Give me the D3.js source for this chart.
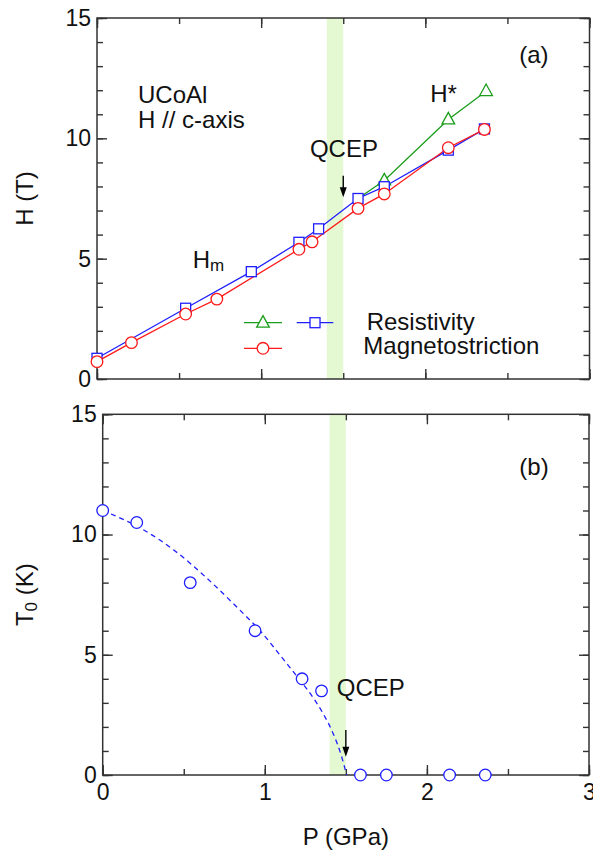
<!DOCTYPE html>
<html>
<head>
<meta charset="utf-8">
<script src="https://cdn.jsdelivr.net/npm/d3@7"></script>
<style>
  html, body { margin: 0; padding: 0; background: #fff; }
  svg { display: block; }
</style>
</head>
<body>
<script>
// ---- Panel (a): metamagnetic fields vs pressure ----
// Resistivity, H_m (blue squares)
const pRes  = [0.00, 0.54, 0.94, 1.23, 1.35, 1.59, 1.75, 2.14, 2.36];
const hmRes = [0.86, 2.94, 4.46, 5.68, 6.24, 7.50, 7.99, 9.51, 10.39];
// Magnetostriction, H_m (red circles)
const pMag  = [0.00, 0.21, 0.54, 0.73, 1.23, 1.31, 1.59, 1.75, 2.14, 2.36];
const hmMag = [0.72, 1.51, 2.70, 3.32, 5.39, 5.70, 7.09, 7.69, 9.61, 10.37];
// Resistivity, H* (green triangles); branches off H_m at pRes[starBranch]
const pStar = [1.75, 2.14, 2.37];
const hStar = [8.25, 10.78, 11.96];
const starBranch = 5;

// ---- Panel (b): T0 vs pressure ----
const pT0 = [0.00, 0.21, 0.54, 0.94, 1.23, 1.35, 1.59, 1.75, 2.14, 2.36];
const t0  = [11.0, 10.5, 8.0, 6.0, 4.0, 3.5, 0, 0, 0, 0];
// dashed guide line for T0(P)
const guideP = [0.00, 0.25, 0.44, 0.64, 0.81, 0.99, 1.11, 1.21, 1.30, 1.36, 1.42, 1.47, 1.505];
const guideT = [11.0, 10.2, 9.35, 8.2, 7.1, 5.85, 4.85, 4.0, 3.2, 2.55, 1.75, 0.85, 0.0];

// QCEP band and marker
const bandP = [1.4, 1.5];
const qcepP = 1.5;

// Axis ticks
const xMajor = [0, 1, 2, 3];
const xMinor = [0, 0.5, 1, 1.5, 2, 2.5, 3];
const yMajor = [0, 5, 10, 15];
const yMinor = d3.range(0, 16, 1);

const FONT = "'Liberation Sans', Arial, Helvetica, sans-serif";
const AXIS = "#333";
const BLUE = "#1f1fff", RED = "#ff1a1a", GREEN = "#1a9e1a", BAND = "#e4f9d1";
const TICK_FS = 23, TEXT_FS = 24;

const svg = d3.select("body").append("svg")
  .attr("width", 593).attr("height", 852)
  .style("font-family", FONT);

// scales for each panel
const xa = d3.scaleLinear().domain([0, 3]).range([97, 589.5]);
const ya = d3.scaleLinear().domain([0, 15]).range([379, 18]);
const xb = d3.scaleLinear().domain([0, 3]).range([102.7, 589]);
const yb = d3.scaleLinear().domain([0, 15]).range([775, 414.3]);

function band(g, x, y) {
  g.append("rect")
    .attr("x", x(bandP[0])).attr("width", x(bandP[1]) - x(bandP[0]))
    .attr("y", y(15)).attr("height", y(0) - y(15))
    .attr("fill", BAND);
}

function axes(g, x, y, xLabels) {
  const [x0, x1] = x.range();
  const [yB, yT] = y.range();
  const add = (tr, axis) => {
    const a = g.append("g").attr("transform", tr).call(axis);
    a.select(".domain").remove();
    a.selectAll(".tick line").attr("stroke", AXIS).attr("stroke-width", 1.4);
    a.selectAll(".tick text").attr("fill", "#111").style("font-size", TICK_FS + "px").style("font-family", FONT);
    return a;
  };
  // bottom
  add(`translate(0,${yB})`, d3.axisBottom(x).tickValues(xMinor).tickSize(-6).tickFormat(""));
  add(`translate(0,${yB})`, d3.axisBottom(x).tickValues(xMajor).tickSize(-10).tickPadding(9)
      .tickFormat(xLabels ? d3.format("d") : ""));
  // top
  add(`translate(0,${yT})`, d3.axisTop(x).tickValues(xMinor).tickSize(-6).tickFormat(""));
  add(`translate(0,${yT})`, d3.axisTop(x).tickValues(xMajor).tickSize(-10).tickFormat(""));
  // left
  add(`translate(${x0},0)`, d3.axisLeft(y).tickValues(yMinor).tickSize(-6).tickFormat(""));
  add(`translate(${x0},0)`, d3.axisLeft(y).tickValues(yMajor).tickSize(-10).tickPadding(6).tickFormat(d3.format("d")));
  // right
  add(`translate(${x1},0)`, d3.axisRight(y).tickValues(yMinor).tickSize(-6).tickFormat(""));
  add(`translate(${x1},0)`, d3.axisRight(y).tickValues(yMajor).tickSize(-10).tickFormat(""));
  // frame
  g.append("rect").attr("x", x0).attr("y", yT).attr("width", x1 - x0).attr("height", yB - yT)
    .attr("fill", "none").attr("stroke", AXIS).attr("stroke-width", 1.5);
}

// marker shapes
const tri = (s) => `M0,${-s * 0.62}L${s * 0.55},${s * 0.38}L${-s * 0.55},${s * 0.38}Z`;
function circles(g, pts, color) {
  g.selectAll(null).data(pts).join("circle")
    .attr("cx", d => d[0]).attr("cy", d => d[1]).attr("r", 5.8)
    .attr("fill", "#fff").attr("stroke", color).attr("stroke-width", 1.3);
}
function squares(g, pts, color) {
  g.selectAll(null).data(pts).join("rect")
    .attr("x", d => d[0] - 5).attr("y", d => d[1] - 5).attr("width", 10).attr("height", 10)
    .attr("fill", "#fff").attr("stroke", color).attr("stroke-width", 1.3);
}
function triangles(g, pts, color) {
  g.selectAll(null).data(pts).join("path")
    .attr("transform", d => `translate(${d[0]},${d[1]})`).attr("d", tri(11.5))
    .attr("fill", "#fff").attr("stroke", color).attr("stroke-width", 1.3);
}
function polyline(g, pts, color) {
  g.append("path").attr("d", d3.line()(pts))
    .attr("fill", "none").attr("stroke", color).attr("stroke-width", 1.3);
}
function arrow(g, x, y, p, from, to) {
  const px = x(p), yt = y(from), yh = y(to);
  g.append("line").attr("x1", px).attr("x2", px).attr("y1", yt).attr("y2", yh - 6)
    .attr("stroke", "#000").attr("stroke-width", 1.4);
  g.append("path").attr("d", `M${px},${yh}L${px - 3.5},${yh - 10}L${px + 3.5},${yh - 10}Z`).attr("fill", "#000");
}
function label(g, tx, ty, text, size, anchor) {
  return g.append("text").attr("x", tx).attr("y", ty)
    .attr("text-anchor", anchor || "start")
    .style("font-size", size + "px").attr("fill", "#111").text(text);
}

// ===== Panel (a) =====
const ga = svg.append("g");
band(ga, xa, ya);
axes(ga, xa, ya, false);

const resPts  = pRes.map((p, i) => [xa(p), ya(hmRes[i])]);
const magPts  = pMag.map((p, i) => [xa(p), ya(hmMag[i])]);
const starPts = pStar.map((p, i) => [xa(p), ya(hStar[i])]);
const starLine = [resPts[starBranch]].concat(starPts);

polyline(ga, starLine, GREEN);
polyline(ga, resPts, BLUE);
polyline(ga, magPts, RED);
triangles(ga, starPts, GREEN);
squares(ga, resPts, BLUE);
circles(ga, magPts, RED);

arrow(ga, xa, ya, qcepP, 8.45, 7.55);

label(ga, xa(0.25), ya(11.47), "UCoAl", TEXT_FS);
label(ga, xa(0.25), ya(10.42), "H // c-axis", TEXT_FS);
const hm = label(ga, xa(0.583), ya(4.6), "H", TEXT_FS);
hm.append("tspan").attr("dy", 3).style("font-size", "17px").text("m");
label(ga, xa(2.03), ya(11.52), "H*", TEXT_FS);
label(ga, xa(1.297), ya(9.21), "QCEP", TEXT_FS);
label(ga, xa(2.572), ya(13.13), "(a)", TEXT_FS);

// legend
const lg = ga.append("g");
polyline(lg, [[244, 322.7], [282, 322.7]], GREEN);
triangles(lg, [[263, 322.7]], GREEN);
polyline(lg, [[296.7, 322.7], [333.3, 322.7]], BLUE);
squares(lg, [[315, 322.7]], BLUE);
polyline(lg, [[244, 348.3], [282, 348.3]], RED);
circles(lg, [[263, 348.3]], RED);
label(lg, 366.7, 330, "Resistivity", TEXT_FS);
label(lg, 363.3, 354, "Magnetostriction", TEXT_FS);

// y-axis title
svg.append("text").attr("transform", `translate(33,${(ya(0) + ya(15)) / 2}) rotate(-90)`)
  .attr("text-anchor", "middle").style("font-size", TEXT_FS + "px").attr("fill", "#111").text("H (T)");

// ===== Panel (b) =====
const gb = svg.append("g");
band(gb, xb, yb);
axes(gb, xb, yb, true);

const guidePts = guideP.map((p, i) => [xb(p), yb(guideT[i])]);
gb.append("path").attr("d", d3.line().curve(d3.curveMonotoneX)(guidePts))
  .attr("fill", "none").attr("stroke", BLUE).attr("stroke-width", 1.3)
  .attr("stroke-dasharray", "5,4");

arrow(gb, xb, yb, qcepP, 1.87, 0.76);

circles(gb, pT0.map((p, i) => [xb(p), yb(t0[i])]), BLUE);

label(gb, xb(1.444), yb(3.29), "QCEP", TEXT_FS);
label(gb, xb(2.57), yb(12.48), "(b)", TEXT_FS);

const tl = svg.append("text").attr("transform", `translate(33,${(yb(0) + yb(15)) / 2}) rotate(-90)`)
  .attr("text-anchor", "middle").style("font-size", TEXT_FS + "px").attr("fill", "#111").text("T");
tl.append("tspan").attr("dy", 4).style("font-size", "17px").text("0");
tl.append("tspan").attr("dy", -4).text(" (K)");

svg.append("text").attr("x", (xb(0) + xb(3)) / 2).attr("y", 845)
  .attr("text-anchor", "middle").style("font-size", TEXT_FS + "px").attr("fill", "#111").text("P (GPa)");
</script>
</body>
</html>
